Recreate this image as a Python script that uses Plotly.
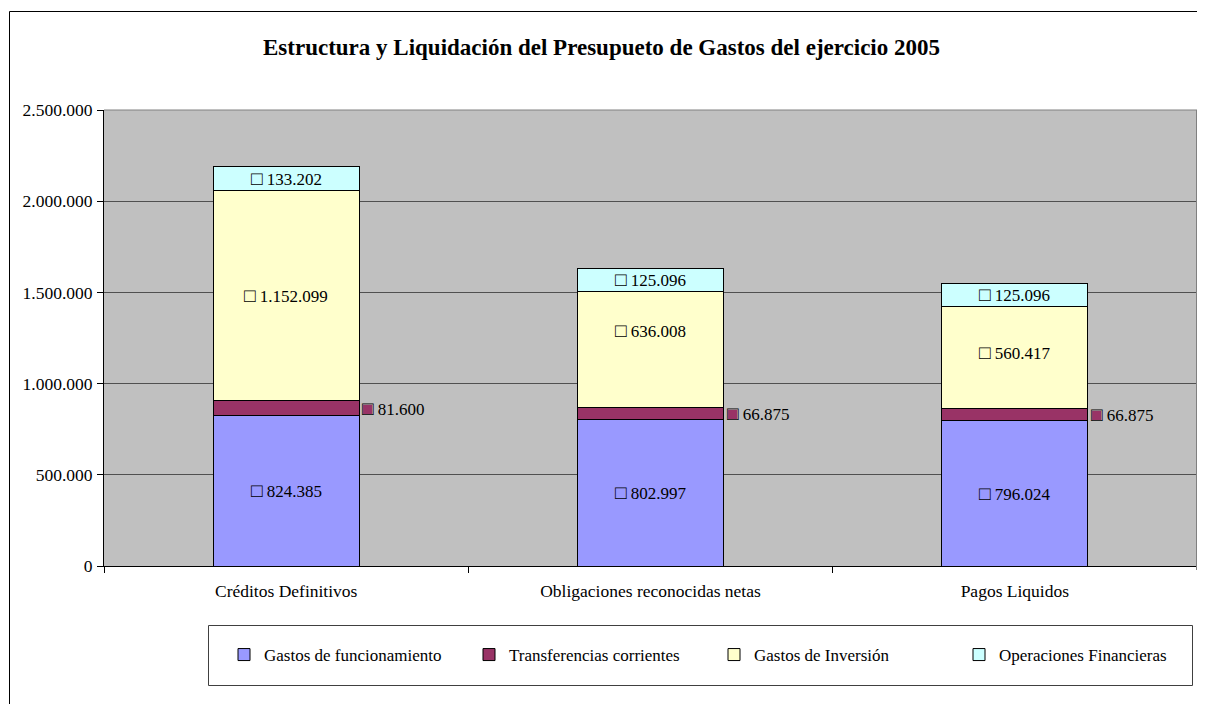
import plotly.graph_objects as go

# ---- data ----
categories = ["Créditos Definitivos", "Obligaciones reconocidas netas", "Pagos Liquidos"]
series_names = ["Gastos de funcionamiento", "Transferencias corrientes",
                "Gastos de Inversión", "Operaciones Financieras"]
gastos_funcionamiento = [824385, 802997, 796024]
transferencias_corrientes = [81600, 66875, 66875]
gastos_inversion = [1152099, 636008, 560417]
operaciones_financieras = [133202, 125096, 125096]
y_tick_values = [0, 500000, 1000000, 1500000, 2000000, 2500000]
title_text = "Estructura y Liquidación del Presupueto de Gastos del ejercicio 2005"

# ---- style ----
colors = ["#9999FF", "#993366", "#FFFFCC", "#CCFFFF"]
FONT = "Liberation Serif, Times New Roman, serif"
W, H = 1205, 704
OFF = 8  # page body margin
# target screen positions of the plot area
SX0, SX1, SY0, SY1 = 104, 1197, 110, 566
L = SX0 - OFF
R = W - (SX1 - OFF)
T = SY0 - OFF
B = H - (SY1 - OFF)
PW, PH = W - L - R, H - T - B

def px_x(p):
    return (p - OFF - L) / PW

def px_y(p):
    return (H - B - (p - OFF)) / PH

def fmt(v):
    return f"{v:,}".replace(",", ".")

KEY = "<span style='font-size:19px'>{}</span>"

series = [gastos_funcionamiento, transferencias_corrientes, gastos_inversion, operaciones_financieras]

fig = go.Figure()
for name, vals, col in zip(series_names, series, colors):
    fig.add_trace(go.Bar(
        x=categories, y=vals, name=name,
        marker=dict(color=col, line=dict(color="black", width=1)),
        hoverinfo="x+y+name",
    ))

# ---- data labels ----
label_yshift = {2: [0, 19, 5]}  # style tweak for manually moved labels
annotations = []
base = [0, 0, 0]
for si, vals in enumerate(series):
    for ci, cat in enumerate(categories):
        yc = base[ci] + vals[ci] / 2
        txt = fmt(vals[ci])
        if si == 1:
            annotations.append(dict(
                x=cat, y=yc, xref="x", yref="y", showarrow=False,
                xanchor="left", xshift=74,
                text=f"<span style='color:{colors[1]};font-size:19px'>■</span> {txt}",
                font=dict(family=FONT, size=17, color="black")))
            annotations.append(dict(
                x=cat, y=yc, xref="x", yref="y", showarrow=False,
                xanchor="left", xshift=74,
                text=KEY.format("□") + f"<span style='color:rgba(0,0,0,0)'> {txt}</span>",
                font=dict(family=FONT, size=17, color="black")))
        else:
            ys = label_yshift.get(si, [0, 0, 0])[ci]
            annotations.append(dict(
                x=cat, y=yc, xref="x", yref="y", showarrow=False,
                yshift=ys,
                text=KEY.format("□") + f" {txt}",
                font=dict(family=FONT, size=17, color="black")))
    base = [b + v for b, v in zip(base, vals)]

# title
annotations.append(dict(
    x=px_x(601), y=px_y(47), xref="paper", yref="paper", showarrow=False,
    text=f"<b>{title_text}</b>", xanchor="center", yanchor="middle",
    font=dict(family=FONT, size=23, color="black")))

shapes = [
    # outer chart frame
    dict(type="rect", xref="paper", yref="paper",
         x0=px_x(9.5), x1=px_x(1225), y0=px_y(725), y1=px_y(11.5),
         line=dict(color="black", width=1), fillcolor="rgba(0,0,0,0)"),
    # plot area top/right border
    dict(type="line", xref="paper", yref="paper", x0=0, x1=1, y0=1, y1=1,
         line=dict(color="#808080", width=1)),
    dict(type="line", xref="paper", yref="paper", x0=1, x1=1, y0=px_y(570), y1=1,
         line=dict(color="#808080", width=2)),
    # legend box
    dict(type="rect", xref="paper", yref="paper",
         x0=px_x(208.5), x1=px_x(1192.5), y0=px_y(685.5), y1=px_y(625.5),
         line=dict(color="#404040", width=1), fillcolor="white", layer="below"),
]

fig.update_layout(
    width=W, height=H,
    margin=dict(l=L, r=R, t=T, b=B, pad=0, autoexpand=False),
    paper_bgcolor="white", plot_bgcolor="#C0C0C0",
    barmode="stack", bargap=0.6,
    separators=",.",
    font=dict(family=FONT, size=17, color="black"),
    showlegend=True,
    legend=dict(orientation="h", x=px_x(224), y=px_y(637), xanchor="left", yanchor="top",
                bgcolor="rgba(0,0,0,0)", borderwidth=0,
                font=dict(family=FONT, size=17, color="black"),
                entrywidth=200, entrywidthmode="pixels", traceorder="normal"),
    annotations=annotations,
    shapes=shapes,
    xaxis=dict(type="category", showline=True, linecolor="black", linewidth=1,
               ticks="outside", tickson="boundaries", ticklen=6, tickcolor="black",
               showgrid=False, tickfont=dict(family=FONT, size=17.5, color="black"),
               ticklabelstandoff=9),
    yaxis=dict(range=[0, 2500000], tickvals=y_tick_values, tickformat=",d",
               showline=True, linecolor="black", linewidth=1,
               ticks="outside", ticklen=6, tickcolor="black",
               showgrid=True, gridcolor="#505050", gridwidth=1, zeroline=False,
               tickfont=dict(family=FONT, size=17.5, color="black"),
               ticklabelstandoff=1),
)

fig.write_html("out.html")
